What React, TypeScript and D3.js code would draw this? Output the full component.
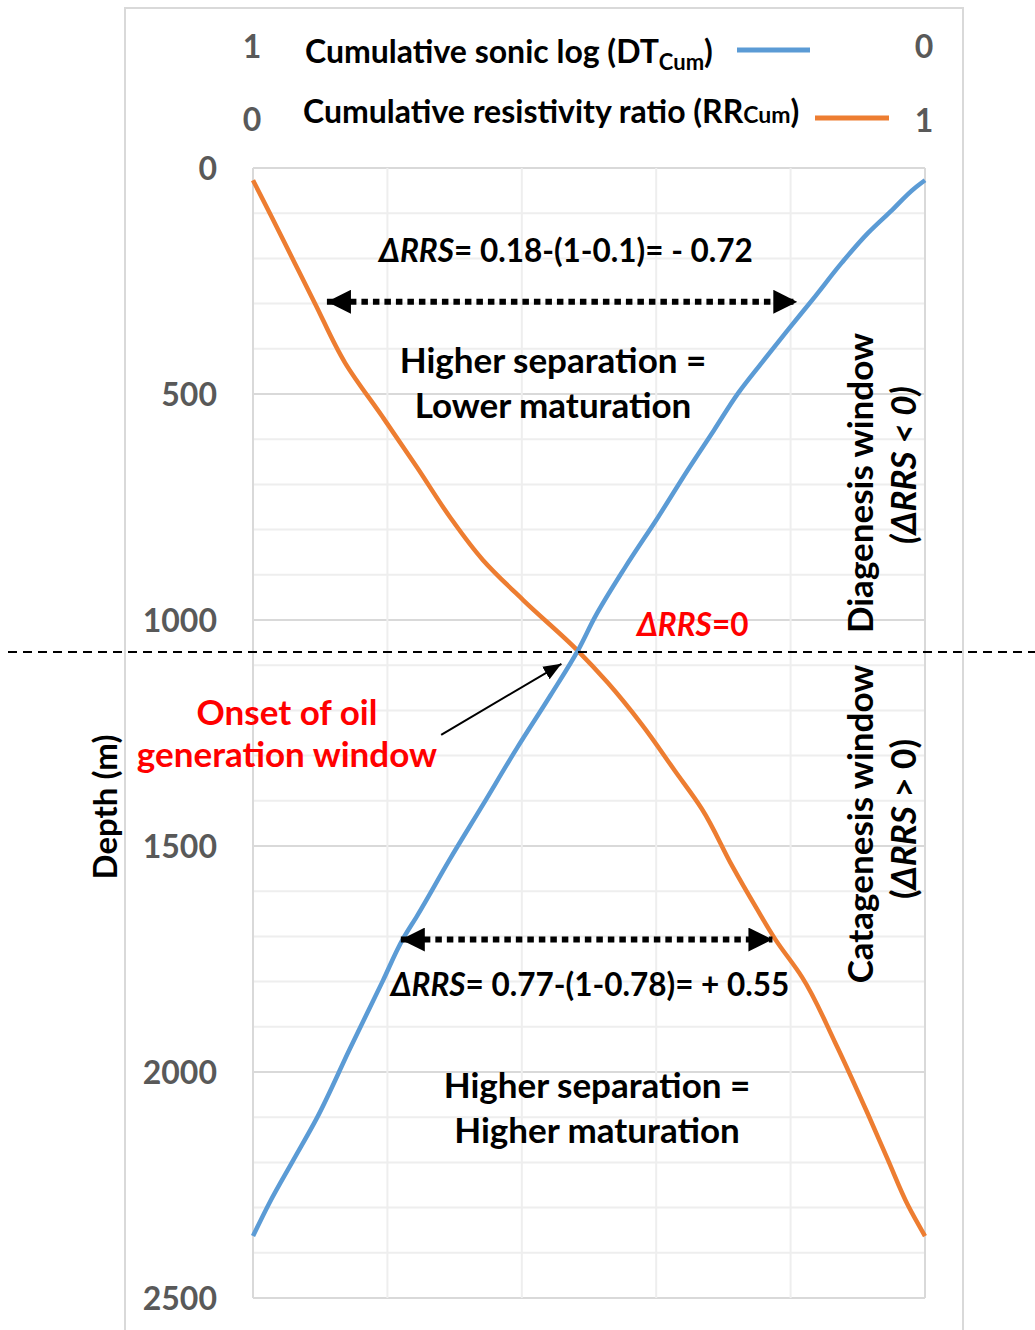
import React, { useEffect, useRef } from "react";
import * as d3 from "d3";

// cumulative resistivity ratio (RR_Cum)
const rrDepth = [27, 100, 210, 299, 431, 551, 662, 772, 867, 956, 1066, 1139, 1232, 1334, 1418, 1544, 1637, 1706, 1790, 1934, 2093, 2195, 2296, 2363];
const rrValue = [0, 0.025, 0.062, 0.092, 0.137, 0.193, 0.244, 0.293, 0.342, 0.402, 0.482, 0.528, 0.579, 0.628, 0.668, 0.713, 0.749, 0.777, 0.817, 0.866, 0.915, 0.945, 0.975, 1.0];

// cumulative sonic log (DT_Cum)
const dtDepth = [27, 44, 93, 144, 210, 285, 358, 431, 498, 580, 668, 772, 883, 993, 1066, 1166, 1283, 1409, 1529, 1655, 1706, 1799, 1949, 2102, 2195, 2288, 2363];
const dtValue = [0, 0.015, 0.049, 0.085, 0.124, 0.164, 0.204, 0.243, 0.278, 0.314, 0.353, 0.397, 0.446, 0.491, 0.516, 0.557, 0.607, 0.658, 0.707, 0.756, 0.777, 0.807, 0.856, 0.905, 0.94, 0.975, 1.0];

const depthTicks = [0, 500, 1000, 1500, 2000, 2500];
const minorDepthTicks = d3.range(0, 2501, 100);
const valueTicks = [0, 0.2, 0.4, 0.6, 0.8, 1];

const FONT = "Lato, 'Open Sans', sans-serif";

export default function App() {
  const ref = useRef<SVGSVGElement>(null);

  useEffect(() => {
    const width = 1035;
    const height = 1330;
    const margin = { top: 168, right: 110, bottom: 32, left: 253 };

    const svg = d3.select(ref.current);
    svg.selectAll("*").remove();
    svg.attr("width", width).attr("height", height);

    const y = d3.scaleLinear().domain([0, 2500]).range([margin.top, height - margin.bottom]);
    const xRR = d3.scaleLinear().domain([0, 1]).range([margin.left, width - margin.right]);
    const xDT = d3.scaleLinear().domain([1, 0]).range([margin.left, width - margin.right]);

    const defs = svg.append("defs");
    defs
      .append("marker")
      .attr("id", "tri")
      .attr("viewBox", "0 0 10 10")
      .attr("refX", 10)
      .attr("refY", 5)
      .attr("markerWidth", 4)
      .attr("markerHeight", 4)
      .attr("markerUnits", "strokeWidth")
      .attr("orient", "auto-start-reverse")
      .append("path")
      .attr("d", "M0,0L10,5L0,10Z")
      .attr("fill", "#000");
    defs
      .append("marker")
      .attr("id", "thin")
      .attr("viewBox", "0 0 10 10")
      .attr("refX", 10)
      .attr("refY", 5)
      .attr("markerWidth", 9)
      .attr("markerHeight", 9)
      .attr("markerUnits", "strokeWidth")
      .attr("orient", "auto")
      .append("path")
      .attr("d", "M0,1L10,5L0,9Z")
      .attr("fill", "#000");

    svg.append("rect").attr("width", width).attr("height", height).attr("fill", "#fff");

    // chart frame
    svg
      .append("rect")
      .attr("x", 125)
      .attr("y", 8)
      .attr("width", 838)
      .attr("height", 1340)
      .attr("fill", "none")
      .attr("stroke", "#d9d9d9")
      .attr("stroke-width", 2);

    // grid
    const grid = svg.append("g");
    grid
      .selectAll(".minor")
      .data(minorDepthTicks)
      .join("line")
      .attr("x1", xRR(0))
      .attr("x2", xRR(1))
      .attr("y1", d => y(d))
      .attr("y2", d => y(d))
      .attr("stroke", d => (d % 500 === 0 ? "#d9d9d9" : "#eeeeee"))
      .attr("stroke-width", 2);
    grid
      .selectAll(".vert")
      .data(valueTicks)
      .join("line")
      .attr("x1", d => xRR(d))
      .attr("x2", d => xRR(d))
      .attr("y1", y(0))
      .attr("y2", y(2500))
      .attr("stroke", d => (d === 0 || d === 1 ? "#d9d9d9" : "#eeeeee"))
      .attr("stroke-width", 2);

    // depth axis labels
    svg
      .append("g")
      .selectAll("text")
      .data(depthTicks)
      .join("text")
      .attr("x", 217)
      .attr("y", d => y(d) + 12)
      .attr("text-anchor", "end")
      .attr("font-family", FONT)
      .attr("font-weight", "bold")
      .attr("font-size", 32)
      .attr("fill", "#595959")
      .text(d => d);

    svg
      .append("text")
      .attr("transform", `translate(117,${807}) rotate(-90)`)
      .attr("text-anchor", "middle")
      .attr("font-family", FONT)
      .attr("font-weight", "bold")
      .attr("font-size", 33)
      .text("Depth (m)");

    // curves
    const lineRR = d3
      .line<number>()
      .x((d, i) => xRR(rrValue[i]))
      .y(d => y(d))
      .curve(d3.curveMonotoneY);
    const lineDT = d3
      .line<number>()
      .x((d, i) => xDT(dtValue[i]))
      .y(d => y(d))
      .curve(d3.curveMonotoneY);

    svg
      .append("path")
      .attr("d", lineRR(rrDepth))
      .attr("fill", "none")
      .attr("stroke", "#ed7d31")
      .attr("stroke-width", 4.5)
      .attr("stroke-linejoin", "round");
    svg
      .append("path")
      .attr("d", lineDT(dtDepth))
      .attr("fill", "none")
      .attr("stroke", "#5b9bd5")
      .attr("stroke-width", 4.5)
      .attr("stroke-linejoin", "round");

    // legend (top axes)
    const leg = svg.append("g").attr("font-family", FONT).attr("font-weight", "bold");
    const axisLbl = (x: number, yy: number, t: string) =>
      leg
        .append("text")
        .attr("x", x)
        .attr("y", yy)
        .attr("text-anchor", "middle")
        .attr("font-size", 32)
        .attr("fill", "#595959")
        .text(t);
    axisLbl(252, 58, "1");
    axisLbl(924, 58, "0");
    axisLbl(252, 131, "0");
    axisLbl(924, 132, "1");

    const t1 = leg.append("text").attr("x", 305).attr("y", 63).attr("font-size", 32);
    t1.append("tspan").text("Cumulative sonic log (DT");
    t1.append("tspan").attr("font-size", 22).attr("dy", 7).text("Cum");
    t1.append("tspan").attr("dy", -7).text(")");
    leg
      .append("line")
      .attr("x1", 737)
      .attr("x2", 810)
      .attr("y1", 50)
      .attr("y2", 50)
      .attr("stroke", "#5b9bd5")
      .attr("stroke-width", 5);

    const t2 = leg.append("text").attr("x", 303).attr("y", 123).attr("font-size", 32);
    t2.append("tspan").text("Cumulative resistivity ratio (RR");
    t2.append("tspan").attr("font-size", 23).text("Cum");
    t2.append("tspan").text(")");
    leg
      .append("line")
      .attr("x1", 815)
      .attr("x2", 889)
      .attr("y1", 118)
      .attr("y2", 118)
      .attr("stroke", "#ed7d31")
      .attr("stroke-width", 5);

    // boundary between windows
    svg
      .append("line")
      .attr("x1", 8)
      .attr("x2", width)
      .attr("y1", y(1071))
      .attr("y2", y(1071))
      .attr("stroke", "#000")
      .attr("stroke-width", 2)
      .attr("stroke-dasharray", "9,6");

    // dotted separation arrows
    const sepArrow = (depth: number, x1: number, x2: number) =>
      svg
        .append("line")
        .attr("x1", x1)
        .attr("x2", x2)
        .attr("y1", y(depth))
        .attr("y2", y(depth))
        .attr("stroke", "#000")
        .attr("stroke-width", 6)
        .attr("stroke-dasharray", "6.5,5")
        .attr("marker-start", "url(#tri)")
        .attr("marker-end", "url(#tri)");
    sepArrow(296, xRR(0.11), xDT(0.19));
    sepArrow(1707, xDT(0.78), xRR(0.773));

    // onset arrow
    svg
      .append("line")
      .attr("x1", xRR(0.28))
      .attr("y1", y(1254))
      .attr("x2", xRR(0.459))
      .attr("y2", y(1097))
      .attr("stroke", "#000")
      .attr("stroke-width", 2)
      .attr("marker-end", "url(#thin)");

    // annotations
    const ann = svg.append("g").attr("font-family", FONT).attr("font-weight", "bold").attr("font-size", 35);
    const delta = (x: number, yy: number, rest: string, anchor = "middle", fill = "#000") => {
      const t = ann
        .append("text")
        .attr("x", x)
        .attr("y", yy)
        .attr("text-anchor", anchor)
        .attr("fill", fill)
        .attr("font-size", 31.5);
      t.append("tspan").attr("font-style", "italic").text("ΔRRS");
      t.append("tspan").text(rest);
      return t;
    };
    delta(566, 262, "= 0.18-(1-0.1)= - 0.72");
    delta(590, 996, "= 0.77-(1-0.78)= + 0.55");
    delta(637, 636, "=0", "start", "#ff0000");

    const plain = (x: number, yy: number, t: string, fill = "#000") =>
      ann.append("text").attr("x", x).attr("y", yy).attr("text-anchor", "middle").attr("fill", fill).text(t);
    plain(553, 373, "Higher separation =");
    plain(553, 418, "Lower maturation");
    plain(597, 1098, "Higher separation =");
    plain(597, 1143, "Higher maturation");
    plain(287, 725, "Onset of oil", "#ff0000");
    plain(287, 767, "generation window", "#ff0000");

    const vert = (x: number, yy: number) =>
      ann.append("text").attr("transform", `translate(${x},${yy}) rotate(-90)`).attr("text-anchor", "middle");
    vert(873, 483).text("Diagenesis window");
    vert(916, 465).attr("font-style", "italic").text("(ΔRRS < 0)");
    vert(873, 824).text("Catagenesis window");
    const c2 = vert(916, 819);
    c2.append("tspan").text("(");
    c2.append("tspan").attr("font-style", "italic").text("ΔRRS");
    c2.append("tspan").text(" > 0)");
  }, []);

  return <svg ref={ref} style={{ position: "absolute", left: 0, top: 0, display: "block" }}></svg>;
}
